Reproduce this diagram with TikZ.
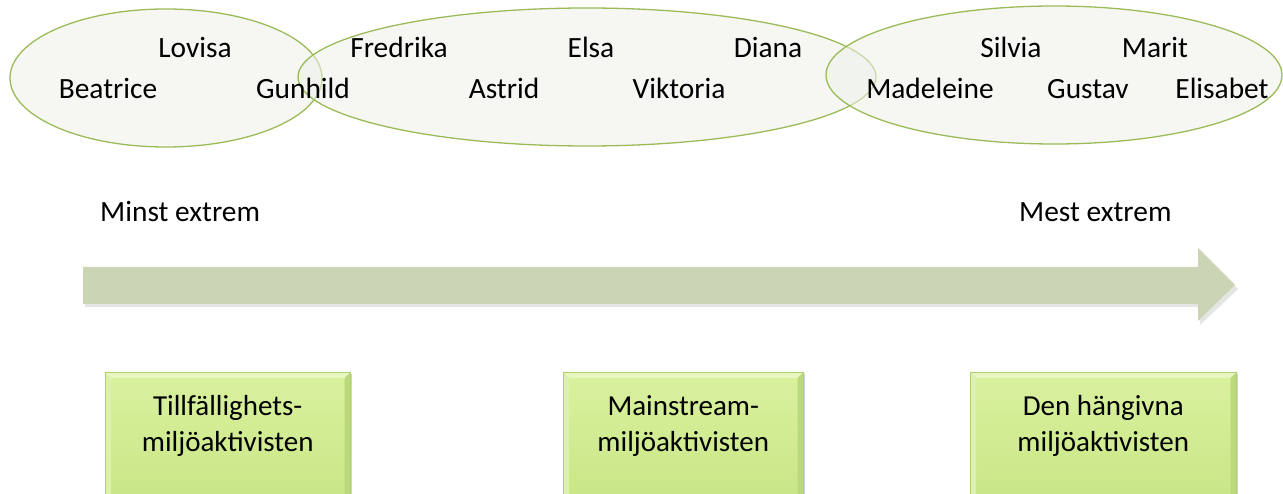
\documentclass[tikz,border=0pt]{standalone}
\usepackage{fontspec}
\setmainfont{Carlito}
\usetikzlibrary{shadows,fadings}
\definecolor{ellborder}{HTML}{9BBB59}
\definecolor{ellfill}{HTML}{EEF1EA}
\definecolor{arrowfill}{HTML}{CBD5B6}
\definecolor{boxtop}{HTML}{DAF19F}
\definecolor{boxbot}{HTML}{C8E686}
\definecolor{boxborder}{HTML}{B0CF72}
\definecolor{bevtop}{HTML}{E8F7C0}
\definecolor{bevleft}{HTML}{DDF2A8}
\definecolor{bevright}{HTML}{B9D97C}
\definecolor{bevbot}{HTML}{ABCB6C}
\tikzset{
  grp/.style={draw=ellborder, line width=1.3pt, fill=ellfill, fill opacity=0.55},
  pname/.style={anchor=base, inner sep=0pt, font=\fontsize{29.4}{34}\selectfont},
  lab/.style={anchor=base west, inner sep=0pt, font=\fontsize{29.4}{34}\selectfont},
  typebox/.style={draw=boxborder, line width=0.5pt, top color=boxtop, bottom color=boxbot,
    minimum height=128pt, anchor=north west, inner sep=0pt,
    drop shadow={shadow xshift=2pt, shadow yshift=-1.5pt, opacity=0.35}},
  boxtext/.style={anchor=base, inner sep=0pt, font=\fontsize{29}{36}\selectfont}
}
\begin{document}
\begin{tikzpicture}[x=1pt,y=-1pt]
\useasboundingbox (0,0) rectangle (1283,494);
% ellipses
\path[grp] (166,78) ellipse [x radius=156, y radius=69];
\path[grp] (587,77) ellipse [x radius=289, y radius=69];
\path[grp] (1054,75) ellipse [x radius=228, y radius=69];
% names
\node[pname] (lovisa) at (195,58) {Lovisa};
\node[pname] (beatrice) at (108,99) {Beatrice};
\node[pname] (gunhild) at (303,99) {Gunhild};
\node[pname] (fredrika) at (399,58) {Fredrika};
\node[pname] (elsa) at (591,58) {Elsa};
\node[pname] (diana) at (768,58) {Diana};
\node[pname] (astrid) at (504,99) {Astrid};
\node[pname] (viktoria) at (679,99) {Viktoria};
\node[pname] (silvia) at (1011,58) {Silvia};
\node[pname] (marit) at (1155,58) {Marit};
\node[pname] (madeleine) at (930,99) {Madeleine};
\node[pname] (gustav) at (1088,99) {Gustav};
\node[pname] (elisabet) at (1222,99) {Elisabet};
% scale labels
\node[lab] (minst) at (100,222) {Minst extrem};
\node[lab] (mest) at (1019,222) {Mest extrem};
% arrow
\fill[black, opacity=0.10] (85,270) -- (1200,270) -- (1200,252) -- (1238,289) -- (1200,325) -- (1200,307) -- (85,307) -- cycle;
\fill[arrowfill] (83,267) -- (1198,267) -- (1198,248) -- (1235,285) -- (1198,321) -- (1198,304) -- (83,304) -- cycle;
% boxes
\node[typebox, minimum width=245pt] (b1) at (105,372) {};
\node[typebox, minimum width=240pt] (b2) at (563,372) {};
\node[typebox, minimum width=266pt] (b3) at (970,372) {};
\foreach \b in {b1,b2,b3}{
  \fill[bevtop] (\b.north west) -- (\b.north east) -- ([shift={(-6pt,-6pt)}]\b.north east) -- ([shift={(6pt,-6pt)}]\b.north west) -- cycle;
  \fill[bevleft] (\b.north west) -- ([shift={(6pt,-6pt)}]\b.north west) -- ([shift={(6pt,6pt)}]\b.south west) -- (\b.south west) -- cycle;
  \fill[bevright] (\b.north east) -- ([shift={(-6pt,-6pt)}]\b.north east) -- ([shift={(-6pt,6pt)}]\b.south east) -- (\b.south east) -- cycle;
  \fill[bevbot] (\b.south west) -- ([shift={(6pt,6pt)}]\b.south west) -- ([shift={(-6pt,6pt)}]\b.south east) -- (\b.south east) -- cycle;
  \draw[boxborder, line width=0.5pt] (\b.north west) rectangle (\b.south east);
}
\node[boxtext] (t1a) at (b1.north |- 0,415) {Tillfällighets-};
\node[boxtext] (t1b) at (b1.north |- 0,451) {miljöaktivisten};
\node[boxtext] (t2a) at (b2.north |- 0,415) {Mainstream-};
\node[boxtext] (t2b) at (b2.north |- 0,451) {miljöaktivisten};
\node[boxtext] (t3a) at (b3.north |- 0,415) {Den hängivna};
\node[boxtext] (t3b) at (b3.north |- 0,451) {miljöaktivisten};
\end{tikzpicture}
\end{document}
